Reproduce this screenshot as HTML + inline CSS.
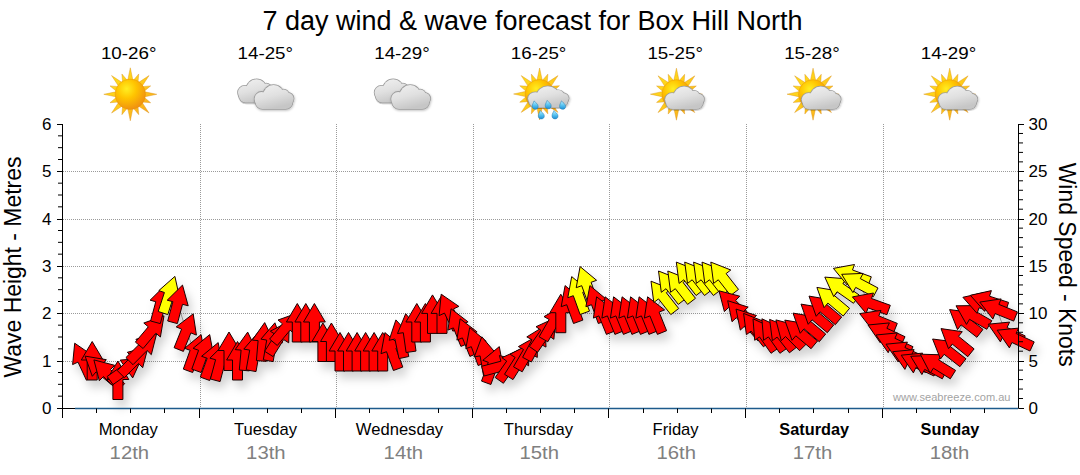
<!DOCTYPE html>
<html><head><meta charset="utf-8"><style>
html,body{margin:0;padding:0;background:#fff;width:1080px;height:475px;overflow:hidden}
svg{display:block}
text{font-family:"Liberation Sans",sans-serif}
.ax{font-size:17px;fill:#000}
.axt{font-size:23.5px;fill:#000}
.day{font-size:16.6px;fill:#000}
.dayb{font-size:16.3px;fill:#000;font-weight:bold}
.date{font-size:17.5px;fill:#808080}
.temp{font-size:16px;fill:#000}
.title{font-size:27px;fill:#000}
.wm{font-size:10.5px;fill:#a3a3a3}
</style></head><body>
<svg width="1080" height="475" viewBox="0 0 1080 475">
<defs><filter id="sh" x="-10%" y="-30%" width="120%" height="160%"><feDropShadow dx="4" dy="7" stdDeviation="5" flood-color="#000" flood-opacity="0.18"/></filter></defs>
<line x1="63" y1="361.5" x2="1018" y2="361.5" stroke="#9a9a9a" stroke-width="1" stroke-dasharray="1,1"/>
<line x1="63" y1="313.5" x2="1018" y2="313.5" stroke="#9a9a9a" stroke-width="1" stroke-dasharray="1,1"/>
<line x1="63" y1="266.5" x2="1018" y2="266.5" stroke="#9a9a9a" stroke-width="1" stroke-dasharray="1,1"/>
<line x1="63" y1="219.5" x2="1018" y2="219.5" stroke="#9a9a9a" stroke-width="1" stroke-dasharray="1,1"/>
<line x1="63" y1="171.5" x2="1018" y2="171.5" stroke="#9a9a9a" stroke-width="1" stroke-dasharray="1,1"/>
<line x1="200.5" y1="124.0" x2="200.5" y2="408.0" stroke="#9a9a9a" stroke-width="1" stroke-dasharray="1,1"/>
<line x1="336.5" y1="124.0" x2="336.5" y2="408.0" stroke="#9a9a9a" stroke-width="1" stroke-dasharray="1,1"/>
<line x1="473.5" y1="124.0" x2="473.5" y2="408.0" stroke="#9a9a9a" stroke-width="1" stroke-dasharray="1,1"/>
<line x1="609.5" y1="124.0" x2="609.5" y2="408.0" stroke="#9a9a9a" stroke-width="1" stroke-dasharray="1,1"/>
<line x1="746.5" y1="124.0" x2="746.5" y2="408.0" stroke="#9a9a9a" stroke-width="1" stroke-dasharray="1,1"/>
<line x1="883.5" y1="124.0" x2="883.5" y2="408.0" stroke="#9a9a9a" stroke-width="1" stroke-dasharray="1,1"/>
<g filter="url(#sh)">
<polyline points="82.5,360.0 92.2,360.0 99.3,368.0 107.0,373.0 117.9,379.5 126.5,369.0 135.0,360.0 143.6,347.0 152.1,330.0 160.6,303.0 169.2,294.0 177.7,303.0 186.3,331.0 194.8,352.0 203.3,352.0 211.9,360.0 220.4,361.0 229.0,350.5 237.5,360.0 246.0,350.5 254.6,351.0 263.1,341.0 271.7,341.0 279.5,337.0 286.3,327.0 297.3,322.0 305.8,322.0 314.4,322.0 322.9,341.5 331.4,341.5 340.0,351.0 348.5,351.0 357.1,351.0 365.6,351.0 374.1,351.0 382.7,351.0 391.2,350.0 399.8,338.0 408.3,332.0 416.8,322.0 425.4,322.0 432.5,313.4 442.0,313.4 449.0,311.0 458.0,326.0 467.0,336.0 476.0,345.0 485.0,355.0 493.0,364.0 502.2,366.0 510.8,364.0 519.3,360.0 527.9,352.0 536.4,342.0 544.9,333.0 553.5,322.0 560.8,312.7 571.4,303.0 578.0,294.0 586.4,284.0 596.2,303.0 603.5,314.0 612.0,314.0 620.5,314.0 629.0,314.0 637.5,314.0 646.0,314.0 654.5,314.0 662.4,295.8 669.9,285.6 679.2,285.6 687.7,276.7 696.1,276.7 705.0,276.7 713.4,276.7 722.2,276.7 732.1,303.9 740.1,314.4 748.4,322.8 755.0,328.0 763.6,334.0 772.5,334.0 781.0,334.0 789.0,333.0 799.0,332.0 807.2,325.0 815.2,316.0 823.2,308.0 831.1,299.3 840.0,287.7 850.8,274.7 858.0,283.0 869.8,303.2 876.9,320.5 884.8,332.8 892.8,342.8 902.8,352.0 909.5,359.5 918.0,363.0 927.0,365.0 936.0,364.0 947.2,350.4 955.4,340.2 964.2,321.0 972.0,315.0 980.5,303.0 988.0,301.0 997.0,309.0 1005.0,332.0 1014.0,338.0" fill="none" stroke="#8a8a8a" stroke-width="1"/>
<polygon points="74.7,343.2 92.4,355.4 87.0,357.9 95.5,376.0 86.4,380.2 78.0,362.1 72.6,364.6" fill="#ff0000" stroke="#1a0000" stroke-width="1"/>
<polygon points="92.2,341.5 103.1,360.0 97.2,360.0 97.2,380.0 87.2,380.0 87.2,360.0 81.3,360.0" fill="#ff0000" stroke="#1a0000" stroke-width="1"/>
<polygon points="85.1,356.1 106.3,359.7 102.5,364.2 117.8,377.0 111.4,384.7 96.1,371.8 92.3,376.3" fill="#ff0000" stroke="#1a0000" stroke-width="1"/>
<polygon points="93.9,359.9 114.7,365.3 110.5,369.5 124.7,383.6 117.6,390.7 103.5,376.5 99.3,380.7" fill="#ff0000" stroke="#1a0000" stroke-width="1"/>
<polygon points="117.9,361.0 128.8,379.5 122.9,379.5 122.9,399.5 112.9,399.5 112.9,379.5 107.0,379.5" fill="#ff0000" stroke="#1a0000" stroke-width="1"/>
<polygon points="141.6,358.4 132.7,377.9 129.3,373.1 113.0,384.6 107.2,376.4 123.6,364.9 120.2,360.1" fill="#ff0000" stroke="#1a0000" stroke-width="1"/>
<polygon points="148.1,346.9 142.7,367.7 138.6,363.5 124.4,377.7 117.3,370.6 131.5,356.5 127.3,352.3" fill="#ff0000" stroke="#1a0000" stroke-width="1"/>
<polygon points="156.6,333.9 151.3,354.7 147.1,350.5 133.0,364.7 125.9,357.6 140.0,343.5 135.9,339.3" fill="#ff0000" stroke="#1a0000" stroke-width="1"/>
<polygon points="164.0,315.8 160.4,337.0 155.9,333.2 143.1,348.5 135.4,342.1 148.3,326.8 143.8,323.0" fill="#ff0000" stroke="#1a0000" stroke-width="1"/>
<polygon points="165.4,285.1 171.2,305.8 165.5,304.3 160.3,323.6 150.6,321.0 155.8,301.7 150.1,300.2" fill="#ff0000" stroke="#1a0000" stroke-width="1"/>
<polygon points="174.9,276.4 179.5,297.4 173.9,295.5 167.8,314.6 158.2,311.5 164.4,292.5 158.8,290.6" fill="#ffff00" stroke="#1a0000" stroke-width="1"/>
<polygon points="182.5,285.1 188.2,305.8 182.5,304.3 177.4,323.6 167.7,321.0 172.9,301.7 167.2,300.2" fill="#ff0000" stroke="#1a0000" stroke-width="1"/>
<polygon points="193.2,313.8 196.4,335.1 190.9,332.9 183.4,351.4 174.1,347.7 181.6,329.1 176.2,326.9" fill="#ff0000" stroke="#1a0000" stroke-width="1"/>
<polygon points="201.1,334.6 205.0,355.7 199.5,353.7 192.7,372.5 183.3,369.1 190.1,350.3 184.6,348.3" fill="#ff0000" stroke="#1a0000" stroke-width="1"/>
<polygon points="209.7,334.6 213.6,355.7 208.0,353.7 201.2,372.5 191.8,369.1 198.6,350.3 193.1,348.3" fill="#ff0000" stroke="#1a0000" stroke-width="1"/>
<polygon points="218.2,342.6 222.1,363.7 216.6,361.7 209.7,380.5 200.3,377.1 207.2,358.3 201.6,356.3" fill="#ff0000" stroke="#1a0000" stroke-width="1"/>
<polygon points="225.2,343.1 230.9,363.8 225.2,362.3 220.1,381.6 210.4,379.0 215.6,359.7 209.9,358.2" fill="#ff0000" stroke="#1a0000" stroke-width="1"/>
<polygon points="229.0,332.0 239.9,350.5 234.0,350.5 234.0,370.5 224.0,370.5 224.0,350.5 218.1,350.5" fill="#ff0000" stroke="#1a0000" stroke-width="1"/>
<polygon points="237.5,341.5 248.4,360.0 242.5,360.0 242.5,380.0 232.5,380.0 232.5,360.0 226.6,360.0" fill="#ff0000" stroke="#1a0000" stroke-width="1"/>
<polygon points="247.7,332.1 256.9,351.4 251.0,350.9 249.3,370.9 239.3,370.0 241.1,350.1 235.2,349.6" fill="#ff0000" stroke="#1a0000" stroke-width="1"/>
<polygon points="257.8,332.8 265.3,352.9 259.5,351.9 256.0,371.6 246.2,369.8 249.7,350.1 243.8,349.1" fill="#ff0000" stroke="#1a0000" stroke-width="1"/>
<polygon points="264.7,322.6 274.0,341.9 268.1,341.4 266.4,361.4 256.4,360.5 258.1,340.6 252.3,340.1" fill="#ff0000" stroke="#1a0000" stroke-width="1"/>
<polygon points="274.9,322.8 282.4,342.9 276.6,341.9 273.1,361.6 263.3,359.8 266.7,340.1 260.9,339.1" fill="#ff0000" stroke="#1a0000" stroke-width="1"/>
<polygon points="289.3,321.3 288.7,342.8 283.7,339.6 273.1,356.6 264.7,351.3 275.3,334.4 270.3,331.2" fill="#ff0000" stroke="#1a0000" stroke-width="1"/>
<polygon points="298.2,312.8 294.6,334.0 290.1,330.2 277.3,345.5 269.6,339.1 282.5,323.8 278.0,320.0" fill="#ff0000" stroke="#1a0000" stroke-width="1"/>
<polygon points="297.3,303.5 308.2,322.0 302.3,322.0 302.3,342.0 292.3,342.0 292.3,322.0 286.4,322.0" fill="#ff0000" stroke="#1a0000" stroke-width="1"/>
<polygon points="305.8,303.5 316.7,322.0 310.8,322.0 310.8,342.0 300.8,342.0 300.8,322.0 294.9,322.0" fill="#ff0000" stroke="#1a0000" stroke-width="1"/>
<polygon points="314.4,303.5 325.3,322.0 319.4,322.0 319.4,342.0 309.4,342.0 309.4,322.0 303.5,322.0" fill="#ff0000" stroke="#1a0000" stroke-width="1"/>
<polygon points="322.9,323.0 333.8,341.5 327.9,341.5 327.9,361.5 317.9,361.5 317.9,341.5 312.0,341.5" fill="#ff0000" stroke="#1a0000" stroke-width="1"/>
<polygon points="331.4,323.0 342.3,341.5 336.4,341.5 336.4,361.5 326.4,361.5 326.4,341.5 320.5,341.5" fill="#ff0000" stroke="#1a0000" stroke-width="1"/>
<polygon points="340.0,332.5 350.9,351.0 345.0,351.0 345.0,371.0 335.0,371.0 335.0,351.0 329.1,351.0" fill="#ff0000" stroke="#1a0000" stroke-width="1"/>
<polygon points="348.5,332.5 359.4,351.0 353.5,351.0 353.5,371.0 343.5,371.0 343.5,351.0 337.6,351.0" fill="#ff0000" stroke="#1a0000" stroke-width="1"/>
<polygon points="357.1,332.5 368.0,351.0 362.1,351.0 362.1,371.0 352.1,371.0 352.1,351.0 346.2,351.0" fill="#ff0000" stroke="#1a0000" stroke-width="1"/>
<polygon points="365.6,332.5 376.5,351.0 370.6,351.0 370.6,371.0 360.6,371.0 360.6,351.0 354.7,351.0" fill="#ff0000" stroke="#1a0000" stroke-width="1"/>
<polygon points="374.1,332.5 385.0,351.0 379.1,351.0 379.1,371.0 369.1,371.0 369.1,351.0 363.2,351.0" fill="#ff0000" stroke="#1a0000" stroke-width="1"/>
<polygon points="382.7,332.5 393.6,351.0 387.7,351.0 387.7,371.0 377.7,371.0 377.7,351.0 371.8,351.0" fill="#ff0000" stroke="#1a0000" stroke-width="1"/>
<polygon points="384.9,332.6 401.5,346.3 395.9,348.3 402.8,367.1 393.4,370.5 386.5,351.7 381.0,353.7" fill="#ff0000" stroke="#1a0000" stroke-width="1"/>
<polygon points="395.9,319.9 410.4,335.7 404.7,337.0 408.8,356.5 399.0,358.6 394.9,339.0 389.1,340.3" fill="#ff0000" stroke="#1a0000" stroke-width="1"/>
<polygon points="405.7,313.7 419.1,330.5 413.3,331.3 416.0,351.1 406.1,352.5 403.3,332.7 397.5,333.5" fill="#ff0000" stroke="#1a0000" stroke-width="1"/>
<polygon points="416.8,303.5 427.7,322.0 421.8,322.0 421.8,342.0 411.8,342.0 411.8,322.0 405.9,322.0" fill="#ff0000" stroke="#1a0000" stroke-width="1"/>
<polygon points="425.4,303.5 436.3,322.0 430.4,322.0 430.4,342.0 420.4,342.0 420.4,322.0 414.5,322.0" fill="#ff0000" stroke="#1a0000" stroke-width="1"/>
<polygon points="432.5,294.9 443.4,313.4 437.5,313.4 437.5,333.4 427.5,333.4 427.5,313.4 421.6,313.4" fill="#ff0000" stroke="#1a0000" stroke-width="1"/>
<polygon points="442.0,294.9 452.9,313.4 447.0,313.4 447.0,333.4 437.0,333.4 437.0,313.4 431.1,313.4" fill="#ff0000" stroke="#1a0000" stroke-width="1"/>
<polygon points="441.2,294.2 458.9,306.4 453.5,308.9 462.0,327.0 452.9,331.2 444.5,313.1 439.1,315.6" fill="#ff0000" stroke="#1a0000" stroke-width="1"/>
<polygon points="451.1,308.8 468.1,321.9 462.6,324.1 470.1,342.7 460.9,346.4 453.4,327.9 447.9,330.1" fill="#ff0000" stroke="#1a0000" stroke-width="1"/>
<polygon points="460.1,318.8 477.1,331.9 471.6,334.1 479.1,352.7 469.9,356.4 462.4,337.9 456.9,340.1" fill="#ff0000" stroke="#1a0000" stroke-width="1"/>
<polygon points="469.7,327.6 486.2,341.3 480.7,343.3 487.5,362.1 478.1,365.5 471.3,346.7 465.8,348.7" fill="#ff0000" stroke="#1a0000" stroke-width="1"/>
<polygon points="481.8,336.8 495.7,353.1 489.9,354.1 493.4,373.8 483.5,375.6 480.1,355.9 474.3,356.9" fill="#ff0000" stroke="#1a0000" stroke-width="1"/>
<polygon points="499.3,346.6 503.2,367.7 497.7,365.7 490.9,384.5 481.5,381.1 488.3,362.3 482.8,360.3" fill="#ff0000" stroke="#1a0000" stroke-width="1"/>
<polygon points="520.1,361.2 505.1,376.5 503.5,370.8 484.2,376.0 481.6,366.3 500.9,361.2 499.4,355.5" fill="#ff0000" stroke="#1a0000" stroke-width="1"/>
<polygon points="521.4,348.8 519.7,370.3 514.9,366.9 503.4,383.3 495.2,377.5 506.7,361.1 501.9,357.7" fill="#ff0000" stroke="#1a0000" stroke-width="1"/>
<polygon points="529.1,344.3 528.6,365.8 523.6,362.6 513.0,379.6 504.5,374.3 515.1,357.4 510.1,354.2" fill="#ff0000" stroke="#1a0000" stroke-width="1"/>
<polygon points="537.1,336.0 537.3,357.4 532.2,354.5 522.2,371.8 513.5,366.8 523.5,349.5 518.4,346.6" fill="#ff0000" stroke="#1a0000" stroke-width="1"/>
<polygon points="545.1,325.7 546.0,347.1 540.8,344.3 531.4,362.0 522.6,357.3 532.0,339.7 526.8,336.9" fill="#ff0000" stroke="#1a0000" stroke-width="1"/>
<polygon points="555.6,317.8 553.9,339.3 549.0,335.9 537.6,352.3 529.4,346.5 540.8,330.1 536.0,326.7" fill="#ff0000" stroke="#1a0000" stroke-width="1"/>
<polygon points="562.7,306.0 562.9,327.4 557.8,324.5 547.8,341.8 539.1,336.8 549.1,319.5 544.0,316.6" fill="#ff0000" stroke="#1a0000" stroke-width="1"/>
<polygon points="560.8,294.2 571.7,312.7 565.8,312.7 565.8,332.7 555.8,332.7 555.8,312.7 549.9,312.7" fill="#ff0000" stroke="#1a0000" stroke-width="1"/>
<polygon points="565.1,285.6 581.6,299.3 576.1,301.3 582.9,320.1 573.5,323.5 566.7,304.7 561.2,306.7" fill="#ff0000" stroke="#1a0000" stroke-width="1"/>
<polygon points="571.7,276.6 588.2,290.3 582.7,292.3 589.5,311.1 580.1,314.5 573.3,295.7 567.8,297.7" fill="#ffff00" stroke="#1a0000" stroke-width="1"/>
<polygon points="580.1,266.6 596.6,280.3 591.1,282.3 597.9,301.1 588.5,304.5 581.7,285.7 576.2,287.7" fill="#ffff00" stroke="#1a0000" stroke-width="1"/>
<polygon points="589.9,285.6 606.4,299.3 600.9,301.3 607.7,320.1 598.3,323.5 591.5,304.7 585.9,306.7" fill="#ff0000" stroke="#1a0000" stroke-width="1"/>
<polygon points="596.6,296.8 613.6,309.9 608.1,312.1 615.6,330.7 606.4,334.4 598.9,315.9 593.4,318.1" fill="#ff0000" stroke="#1a0000" stroke-width="1"/>
<polygon points="605.1,296.8 622.1,309.9 616.6,312.1 624.1,330.7 614.9,334.4 607.4,315.9 601.9,318.1" fill="#ff0000" stroke="#1a0000" stroke-width="1"/>
<polygon points="613.6,296.8 630.6,309.9 625.1,312.1 632.6,330.7 623.4,334.4 615.9,315.9 610.4,318.1" fill="#ff0000" stroke="#1a0000" stroke-width="1"/>
<polygon points="622.1,296.8 639.1,309.9 633.6,312.1 641.1,330.7 631.9,334.4 624.4,315.9 618.9,318.1" fill="#ff0000" stroke="#1a0000" stroke-width="1"/>
<polygon points="630.6,296.8 647.6,309.9 642.1,312.1 649.6,330.7 640.4,334.4 632.9,315.9 627.4,318.1" fill="#ff0000" stroke="#1a0000" stroke-width="1"/>
<polygon points="639.1,296.8 656.1,309.9 650.6,312.1 658.1,330.7 648.9,334.4 641.4,315.9 635.9,318.1" fill="#ff0000" stroke="#1a0000" stroke-width="1"/>
<polygon points="647.6,296.8 664.6,309.9 659.1,312.1 666.6,330.7 657.4,334.4 649.9,315.9 644.4,318.1" fill="#ff0000" stroke="#1a0000" stroke-width="1"/>
<polygon points="651.0,281.2 671.0,289.1 666.3,292.7 678.7,308.5 670.8,314.6 658.5,298.9 653.8,302.5" fill="#ffff00" stroke="#1a0000" stroke-width="1"/>
<polygon points="658.5,271.0 678.5,278.9 673.8,282.5 686.2,298.3 678.3,304.4 666.0,288.7 661.3,292.3" fill="#ffff00" stroke="#1a0000" stroke-width="1"/>
<polygon points="667.8,271.0 687.8,278.9 683.1,282.5 695.5,298.3 687.6,304.4 675.3,288.7 670.6,292.3" fill="#ffff00" stroke="#1a0000" stroke-width="1"/>
<polygon points="676.3,262.1 696.3,270.0 691.6,273.6 704.0,289.4 696.1,295.5 683.8,279.8 679.1,283.4" fill="#ffff00" stroke="#1a0000" stroke-width="1"/>
<polygon points="684.7,262.1 704.7,270.0 700.0,273.6 712.4,289.4 704.5,295.5 692.2,279.8 687.5,283.4" fill="#ffff00" stroke="#1a0000" stroke-width="1"/>
<polygon points="693.6,262.1 713.6,270.0 708.9,273.6 721.3,289.4 713.4,295.5 701.1,279.8 696.4,283.4" fill="#ffff00" stroke="#1a0000" stroke-width="1"/>
<polygon points="702.0,262.1 722.0,270.0 717.3,273.6 729.7,289.4 721.8,295.5 709.5,279.8 704.8,283.4" fill="#ffff00" stroke="#1a0000" stroke-width="1"/>
<polygon points="710.8,262.1 730.8,270.0 726.1,273.6 738.5,289.4 730.6,295.5 718.3,279.8 713.6,283.4" fill="#ffff00" stroke="#1a0000" stroke-width="1"/>
<polygon points="719.0,290.8 739.8,296.2 735.6,300.4 749.8,314.5 742.7,321.6 728.6,307.4 724.4,311.6" fill="#ff0000" stroke="#1a0000" stroke-width="1"/>
<polygon points="727.7,300.7 748.2,307.1 743.8,311.1 757.2,325.9 749.8,332.6 736.4,317.7 732.0,321.7" fill="#ff0000" stroke="#1a0000" stroke-width="1"/>
<polygon points="736.0,309.1 756.5,315.5 752.1,319.5 765.5,334.3 758.1,341.0 744.7,326.1 740.3,330.1" fill="#ff0000" stroke="#1a0000" stroke-width="1"/>
<polygon points="743.6,313.4 763.6,321.3 758.9,324.9 771.3,340.7 763.4,346.8 751.1,331.1 746.4,334.7" fill="#ff0000" stroke="#1a0000" stroke-width="1"/>
<polygon points="753.0,318.8 772.5,327.7 767.7,331.1 779.2,347.5 771.0,353.3 759.5,336.9 754.7,340.3" fill="#ff0000" stroke="#1a0000" stroke-width="1"/>
<polygon points="761.9,318.8 781.4,327.7 776.6,331.1 788.1,347.5 779.9,353.3 768.4,336.9 763.6,340.3" fill="#ff0000" stroke="#1a0000" stroke-width="1"/>
<polygon points="769.6,319.4 789.6,327.3 784.9,330.9 797.3,346.7 789.4,352.8 777.1,337.1 772.4,340.7" fill="#ff0000" stroke="#1a0000" stroke-width="1"/>
<polygon points="775.9,319.9 796.7,325.3 792.5,329.5 806.7,343.6 799.6,350.7 785.5,336.5 781.3,340.7" fill="#ff0000" stroke="#1a0000" stroke-width="1"/>
<polygon points="784.8,320.1 806.0,323.7 802.2,328.2 817.5,341.0 811.1,348.7 795.8,335.8 792.0,340.3" fill="#ff0000" stroke="#1a0000" stroke-width="1"/>
<polygon points="793.0,313.1 814.2,316.7 810.4,321.2 825.7,334.0 819.3,341.7 804.0,328.8 800.2,333.3" fill="#ff0000" stroke="#1a0000" stroke-width="1"/>
<polygon points="801.0,304.1 822.2,307.7 818.4,312.2 833.7,325.0 827.3,332.7 812.0,319.8 808.2,324.3" fill="#ff0000" stroke="#1a0000" stroke-width="1"/>
<polygon points="809.0,296.1 830.2,299.7 826.4,304.2 841.7,317.0 835.3,324.7 820.0,311.8 816.2,316.3" fill="#ff0000" stroke="#1a0000" stroke-width="1"/>
<polygon points="816.9,287.4 838.1,291.0 834.3,295.5 849.6,308.3 843.2,316.0 827.9,303.1 824.1,307.6" fill="#ffff00" stroke="#1a0000" stroke-width="1"/>
<polygon points="824.8,277.1 846.3,278.8 842.9,283.6 859.3,295.1 853.5,303.3 837.1,291.8 833.7,296.6" fill="#ffff00" stroke="#1a0000" stroke-width="1"/>
<polygon points="833.4,268.4 854.5,264.5 852.5,270.0 871.3,276.8 867.9,286.2 849.1,279.4 847.1,284.9" fill="#ffff00" stroke="#1a0000" stroke-width="1"/>
<polygon points="841.7,274.3 863.1,273.4 860.3,278.6 878.0,288.0 873.3,296.8 855.7,287.4 852.9,292.6" fill="#ffff00" stroke="#1a0000" stroke-width="1"/>
<polygon points="852.4,296.9 873.5,293.0 871.5,298.5 890.3,305.3 886.9,314.7 868.1,307.9 866.1,313.4" fill="#ff0000" stroke="#1a0000" stroke-width="1"/>
<polygon points="859.7,313.6 881.0,310.4 878.8,315.9 897.3,323.4 893.6,332.6 875.0,325.1 872.8,330.6" fill="#ff0000" stroke="#1a0000" stroke-width="1"/>
<polygon points="868.0,325.0 889.4,322.9 886.9,328.3 905.0,336.7 900.8,345.8 882.7,337.3 880.2,342.7" fill="#ff0000" stroke="#1a0000" stroke-width="1"/>
<polygon points="876.0,335.0 897.4,332.9 894.9,338.3 913.0,346.7 908.8,355.8 890.7,347.3 888.2,352.7" fill="#ff0000" stroke="#1a0000" stroke-width="1"/>
<polygon points="886.0,344.2 907.4,342.1 904.9,347.5 923.0,355.9 918.8,365.0 900.7,356.5 898.2,361.9" fill="#ff0000" stroke="#1a0000" stroke-width="1"/>
<polygon points="892.7,351.7 914.1,349.6 911.6,355.0 929.7,363.4 925.5,372.5 907.4,364.0 904.9,369.4" fill="#ff0000" stroke="#1a0000" stroke-width="1"/>
<polygon points="901.2,355.2 922.6,353.1 920.1,358.5 938.2,366.9 934.0,376.0 915.9,367.5 913.4,372.9" fill="#ff0000" stroke="#1a0000" stroke-width="1"/>
<polygon points="910.7,356.3 932.1,355.4 929.3,360.6 947.0,370.0 942.3,378.8 924.7,369.4 921.9,374.6" fill="#ff0000" stroke="#1a0000" stroke-width="1"/>
<polygon points="920.3,354.2 941.8,354.8 938.6,359.8 955.6,370.4 950.3,378.8 933.4,368.2 930.2,373.2" fill="#ff0000" stroke="#1a0000" stroke-width="1"/>
<polygon points="932.6,339.0 953.9,341.8 950.3,346.5 966.0,358.8 959.9,366.7 944.1,354.3 940.5,359.0" fill="#ff0000" stroke="#1a0000" stroke-width="1"/>
<polygon points="941.0,328.6 962.3,331.7 958.5,336.3 974.1,348.9 967.8,356.7 952.3,344.1 948.5,348.7" fill="#ff0000" stroke="#1a0000" stroke-width="1"/>
<polygon points="949.6,309.6 970.9,312.4 967.3,317.1 983.0,329.4 976.9,337.3 961.1,324.9 957.5,329.6" fill="#ff0000" stroke="#1a0000" stroke-width="1"/>
<polygon points="956.0,305.8 977.5,305.6 974.5,310.7 991.8,320.7 986.8,329.3 969.5,319.3 966.5,324.4" fill="#ff0000" stroke="#1a0000" stroke-width="1"/>
<polygon points="962.9,297.3 983.9,292.6 982.0,298.2 1001.1,304.4 998.0,313.9 979.0,307.8 977.1,313.4" fill="#ff0000" stroke="#1a0000" stroke-width="1"/>
<polygon points="970.4,295.3 991.4,290.6 989.5,296.2 1008.6,302.4 1005.5,311.9 986.5,305.8 984.6,311.4" fill="#ff0000" stroke="#1a0000" stroke-width="1"/>
<polygon points="979.8,302.1 1001.1,298.9 998.9,304.4 1017.4,311.9 1013.7,321.1 995.1,313.6 992.9,319.1" fill="#ff0000" stroke="#1a0000" stroke-width="1"/>
<polygon points="988.2,324.2 1009.6,322.1 1007.1,327.5 1025.2,335.9 1021.0,345.0 1002.9,336.5 1000.4,341.9" fill="#ff0000" stroke="#1a0000" stroke-width="1"/>
<polygon points="997.2,330.2 1018.6,328.1 1016.1,333.5 1034.2,341.9 1030.0,351.0 1011.9,342.5 1009.4,347.9" fill="#ff0000" stroke="#1a0000" stroke-width="1"/>
</g>
<line x1="62.5" y1="124.0" x2="62.5" y2="418" stroke="#000" stroke-width="1"/>
<line x1="57" y1="408.5" x2="62.5" y2="408.5" stroke="#000" stroke-width="1"/>
<line x1="58" y1="396.17" x2="62.5" y2="396.17" stroke="#000" stroke-width="1"/>
<line x1="58" y1="384.33" x2="62.5" y2="384.33" stroke="#000" stroke-width="1"/>
<line x1="58" y1="372.50" x2="62.5" y2="372.50" stroke="#000" stroke-width="1"/>
<line x1="57" y1="361.5" x2="62.5" y2="361.5" stroke="#000" stroke-width="1"/>
<line x1="58" y1="348.83" x2="62.5" y2="348.83" stroke="#000" stroke-width="1"/>
<line x1="58" y1="337.00" x2="62.5" y2="337.00" stroke="#000" stroke-width="1"/>
<line x1="58" y1="325.17" x2="62.5" y2="325.17" stroke="#000" stroke-width="1"/>
<line x1="57" y1="313.5" x2="62.5" y2="313.5" stroke="#000" stroke-width="1"/>
<line x1="58" y1="301.50" x2="62.5" y2="301.50" stroke="#000" stroke-width="1"/>
<line x1="58" y1="289.67" x2="62.5" y2="289.67" stroke="#000" stroke-width="1"/>
<line x1="58" y1="277.83" x2="62.5" y2="277.83" stroke="#000" stroke-width="1"/>
<line x1="57" y1="266.5" x2="62.5" y2="266.5" stroke="#000" stroke-width="1"/>
<line x1="58" y1="254.17" x2="62.5" y2="254.17" stroke="#000" stroke-width="1"/>
<line x1="58" y1="242.33" x2="62.5" y2="242.33" stroke="#000" stroke-width="1"/>
<line x1="58" y1="230.50" x2="62.5" y2="230.50" stroke="#000" stroke-width="1"/>
<line x1="57" y1="219.5" x2="62.5" y2="219.5" stroke="#000" stroke-width="1"/>
<line x1="58" y1="206.83" x2="62.5" y2="206.83" stroke="#000" stroke-width="1"/>
<line x1="58" y1="195.00" x2="62.5" y2="195.00" stroke="#000" stroke-width="1"/>
<line x1="58" y1="183.17" x2="62.5" y2="183.17" stroke="#000" stroke-width="1"/>
<line x1="57" y1="171.5" x2="62.5" y2="171.5" stroke="#000" stroke-width="1"/>
<line x1="58" y1="159.50" x2="62.5" y2="159.50" stroke="#000" stroke-width="1"/>
<line x1="58" y1="147.67" x2="62.5" y2="147.67" stroke="#000" stroke-width="1"/>
<line x1="58" y1="135.83" x2="62.5" y2="135.83" stroke="#000" stroke-width="1"/>
<line x1="57" y1="124.5" x2="62.5" y2="124.5" stroke="#000" stroke-width="1"/>
<text x="51.5" y="414.0" text-anchor="end" class="ax">0</text>
<text x="51.5" y="366.6666666666667" text-anchor="end" class="ax">1</text>
<text x="51.5" y="319.3333333333333" text-anchor="end" class="ax">2</text>
<text x="51.5" y="272.0" text-anchor="end" class="ax">3</text>
<text x="51.5" y="224.66666666666666" text-anchor="end" class="ax">4</text>
<text x="51.5" y="177.33333333333334" text-anchor="end" class="ax">5</text>
<text x="51.5" y="130.0" text-anchor="end" class="ax">6</text>
<line x1="1018.5" y1="124.0" x2="1018.5" y2="408.5" stroke="#000" stroke-width="1"/>
<line x1="1018.5" y1="408.5" x2="1024" y2="408.5" stroke="#000" stroke-width="1"/>
<line x1="1018.5" y1="398.53" x2="1023" y2="398.53" stroke="#000" stroke-width="1"/>
<line x1="1018.5" y1="389.07" x2="1023" y2="389.07" stroke="#000" stroke-width="1"/>
<line x1="1018.5" y1="379.60" x2="1023" y2="379.60" stroke="#000" stroke-width="1"/>
<line x1="1018.5" y1="370.13" x2="1023" y2="370.13" stroke="#000" stroke-width="1"/>
<line x1="1018.5" y1="361.5" x2="1024" y2="361.5" stroke="#000" stroke-width="1"/>
<line x1="1018.5" y1="351.20" x2="1023" y2="351.20" stroke="#000" stroke-width="1"/>
<line x1="1018.5" y1="341.73" x2="1023" y2="341.73" stroke="#000" stroke-width="1"/>
<line x1="1018.5" y1="332.27" x2="1023" y2="332.27" stroke="#000" stroke-width="1"/>
<line x1="1018.5" y1="322.80" x2="1023" y2="322.80" stroke="#000" stroke-width="1"/>
<line x1="1018.5" y1="313.5" x2="1024" y2="313.5" stroke="#000" stroke-width="1"/>
<line x1="1018.5" y1="303.87" x2="1023" y2="303.87" stroke="#000" stroke-width="1"/>
<line x1="1018.5" y1="294.40" x2="1023" y2="294.40" stroke="#000" stroke-width="1"/>
<line x1="1018.5" y1="284.93" x2="1023" y2="284.93" stroke="#000" stroke-width="1"/>
<line x1="1018.5" y1="275.47" x2="1023" y2="275.47" stroke="#000" stroke-width="1"/>
<line x1="1018.5" y1="266.5" x2="1024" y2="266.5" stroke="#000" stroke-width="1"/>
<line x1="1018.5" y1="256.53" x2="1023" y2="256.53" stroke="#000" stroke-width="1"/>
<line x1="1018.5" y1="247.07" x2="1023" y2="247.07" stroke="#000" stroke-width="1"/>
<line x1="1018.5" y1="237.60" x2="1023" y2="237.60" stroke="#000" stroke-width="1"/>
<line x1="1018.5" y1="228.13" x2="1023" y2="228.13" stroke="#000" stroke-width="1"/>
<line x1="1018.5" y1="219.5" x2="1024" y2="219.5" stroke="#000" stroke-width="1"/>
<line x1="1018.5" y1="209.20" x2="1023" y2="209.20" stroke="#000" stroke-width="1"/>
<line x1="1018.5" y1="199.73" x2="1023" y2="199.73" stroke="#000" stroke-width="1"/>
<line x1="1018.5" y1="190.27" x2="1023" y2="190.27" stroke="#000" stroke-width="1"/>
<line x1="1018.5" y1="180.80" x2="1023" y2="180.80" stroke="#000" stroke-width="1"/>
<line x1="1018.5" y1="171.5" x2="1024" y2="171.5" stroke="#000" stroke-width="1"/>
<line x1="1018.5" y1="161.87" x2="1023" y2="161.87" stroke="#000" stroke-width="1"/>
<line x1="1018.5" y1="152.40" x2="1023" y2="152.40" stroke="#000" stroke-width="1"/>
<line x1="1018.5" y1="142.93" x2="1023" y2="142.93" stroke="#000" stroke-width="1"/>
<line x1="1018.5" y1="133.47" x2="1023" y2="133.47" stroke="#000" stroke-width="1"/>
<line x1="1018.5" y1="124.5" x2="1024" y2="124.5" stroke="#000" stroke-width="1"/>
<text x="1028.5" y="414.0" text-anchor="start" class="ax">0</text>
<text x="1028.5" y="366.6666666666667" text-anchor="start" class="ax">5</text>
<text x="1028.5" y="319.3333333333333" text-anchor="start" class="ax">10</text>
<text x="1028.5" y="272.0" text-anchor="start" class="ax">15</text>
<text x="1028.5" y="224.66666666666666" text-anchor="start" class="ax">20</text>
<text x="1028.5" y="177.33333333333334" text-anchor="start" class="ax">25</text>
<text x="1028.5" y="130.0" text-anchor="start" class="ax">30</text>
<line x1="57" y1="408.5" x2="75" y2="408.5" stroke="#000" stroke-width="1"/>
<line x1="75" y1="408.5" x2="1018" y2="408.5" stroke="#1d5b8c" stroke-width="1.4"/>
<line x1="96.5" y1="408.5" x2="96.5" y2="413" stroke="#000" stroke-width="1"/>
<line x1="130.5" y1="408.5" x2="130.5" y2="413" stroke="#000" stroke-width="1"/>
<line x1="164.5" y1="408.5" x2="164.5" y2="413" stroke="#000" stroke-width="1"/>
<line x1="199.5" y1="408.5" x2="199.5" y2="418" stroke="#000" stroke-width="1"/>
<line x1="233.5" y1="408.5" x2="233.5" y2="413" stroke="#000" stroke-width="1"/>
<line x1="267.5" y1="408.5" x2="267.5" y2="413" stroke="#000" stroke-width="1"/>
<line x1="301.5" y1="408.5" x2="301.5" y2="413" stroke="#000" stroke-width="1"/>
<line x1="335.5" y1="408.5" x2="335.5" y2="418" stroke="#000" stroke-width="1"/>
<line x1="369.5" y1="408.5" x2="369.5" y2="413" stroke="#000" stroke-width="1"/>
<line x1="403.5" y1="408.5" x2="403.5" y2="413" stroke="#000" stroke-width="1"/>
<line x1="438.5" y1="408.5" x2="438.5" y2="413" stroke="#000" stroke-width="1"/>
<line x1="472.5" y1="408.5" x2="472.5" y2="418" stroke="#000" stroke-width="1"/>
<line x1="506.5" y1="408.5" x2="506.5" y2="413" stroke="#000" stroke-width="1"/>
<line x1="540.5" y1="408.5" x2="540.5" y2="413" stroke="#000" stroke-width="1"/>
<line x1="574.5" y1="408.5" x2="574.5" y2="413" stroke="#000" stroke-width="1"/>
<line x1="608.5" y1="408.5" x2="608.5" y2="418" stroke="#000" stroke-width="1"/>
<line x1="643.5" y1="408.5" x2="643.5" y2="413" stroke="#000" stroke-width="1"/>
<line x1="677.5" y1="408.5" x2="677.5" y2="413" stroke="#000" stroke-width="1"/>
<line x1="711.5" y1="408.5" x2="711.5" y2="413" stroke="#000" stroke-width="1"/>
<line x1="745.5" y1="408.5" x2="745.5" y2="418" stroke="#000" stroke-width="1"/>
<line x1="779.5" y1="408.5" x2="779.5" y2="413" stroke="#000" stroke-width="1"/>
<line x1="813.5" y1="408.5" x2="813.5" y2="413" stroke="#000" stroke-width="1"/>
<line x1="848.5" y1="408.5" x2="848.5" y2="413" stroke="#000" stroke-width="1"/>
<line x1="882.5" y1="408.5" x2="882.5" y2="418" stroke="#000" stroke-width="1"/>
<line x1="916.5" y1="408.5" x2="916.5" y2="413" stroke="#000" stroke-width="1"/>
<line x1="950.5" y1="408.5" x2="950.5" y2="413" stroke="#000" stroke-width="1"/>
<line x1="984.5" y1="408.5" x2="984.5" y2="413" stroke="#000" stroke-width="1"/>
<text x="128.2" y="435" text-anchor="middle" class="day">Monday</text>
<text x="129.35" y="458.6" text-anchor="middle" class="date" textLength="39.5" lengthAdjust="spacingAndGlyphs">12th</text>
<text x="128.7" y="59.2" text-anchor="middle" class="temp" textLength="55.5" lengthAdjust="spacingAndGlyphs">10-26°</text>
<text x="265.5" y="435" text-anchor="middle" class="day">Tuesday</text>
<text x="265.85" y="458.6" text-anchor="middle" class="date" textLength="39.5" lengthAdjust="spacingAndGlyphs">13th</text>
<text x="265.3" y="59.2" text-anchor="middle" class="temp" textLength="55.5" lengthAdjust="spacingAndGlyphs">14-25°</text>
<text x="399.5" y="435" text-anchor="middle" class="day">Wednesday</text>
<text x="403.35" y="458.6" text-anchor="middle" class="date" textLength="39.5" lengthAdjust="spacingAndGlyphs">14th</text>
<text x="402.0" y="59.2" text-anchor="middle" class="temp" textLength="55.5" lengthAdjust="spacingAndGlyphs">14-29°</text>
<text x="538.4" y="435" text-anchor="middle" class="day">Thursday</text>
<text x="539.3" y="458.6" text-anchor="middle" class="date" textLength="39.5" lengthAdjust="spacingAndGlyphs">15th</text>
<text x="538.6" y="59.2" text-anchor="middle" class="temp" textLength="55.5" lengthAdjust="spacingAndGlyphs">16-25°</text>
<text x="675.6" y="435" text-anchor="middle" class="day">Friday</text>
<text x="676.25" y="458.6" text-anchor="middle" class="date" textLength="39.5" lengthAdjust="spacingAndGlyphs">16th</text>
<text x="675.2" y="59.2" text-anchor="middle" class="temp" textLength="55.5" lengthAdjust="spacingAndGlyphs">15-25°</text>
<text x="814.2" y="435" text-anchor="middle" class="dayb">Saturday</text>
<text x="812.45" y="458.6" text-anchor="middle" class="date" textLength="39.5" lengthAdjust="spacingAndGlyphs">17th</text>
<text x="811.9" y="59.2" text-anchor="middle" class="temp" textLength="55.5" lengthAdjust="spacingAndGlyphs">15-28°</text>
<text x="950.0" y="435" text-anchor="middle" class="dayb">Sunday</text>
<text x="949.55" y="458.6" text-anchor="middle" class="date" textLength="39.5" lengthAdjust="spacingAndGlyphs">18th</text>
<text x="948.5" y="59.2" text-anchor="middle" class="temp" textLength="55.5" lengthAdjust="spacingAndGlyphs">14-29°</text>
<text x="893" y="401" class="wm" textLength="117.5" lengthAdjust="spacingAndGlyphs">www.seabreeze.com.au</text>
<text x="532.5" y="29.5" text-anchor="middle" class="title">7 day wind &amp; wave forecast for Box Hill North</text>
<text transform="translate(20.8,267) rotate(-90)" text-anchor="middle" class="axt" textLength="221" lengthAdjust="spacingAndGlyphs">Wave Height - Metres</text>
<text transform="translate(1058.9,264.7) rotate(90)" text-anchor="middle" class="axt" textLength="204" lengthAdjust="spacingAndGlyphs">Wind Speed - Knots</text>
<defs>
<radialGradient id="sunCore" cx="0.38" cy="0.32" r="0.7">
 <stop offset="0" stop-color="#ffee22"/><stop offset="0.45" stop-color="#ffc400"/><stop offset="1" stop-color="#f09010"/></radialGradient>
<linearGradient id="sunRay" x1="0" y1="0" x2="1" y2="1">
 <stop offset="0" stop-color="#ffe41a"/><stop offset="0.55" stop-color="#ffc81a"/><stop offset="1" stop-color="#f59a1e"/></linearGradient>
<linearGradient id="cloudG" gradientUnits="userSpaceOnUse" x1="10" y1="0" x2="16" y2="24">
 <stop offset="0" stop-color="#efefef"/><stop offset="0.5" stop-color="#e0e0e0"/><stop offset="1" stop-color="#c6c6c6"/></linearGradient>
<linearGradient id="dropG" x1="0" y1="0" x2="0" y2="1">
 <stop offset="0" stop-color="#bff0ff"/><stop offset="0.5" stop-color="#5cc6f2"/><stop offset="1" stop-color="#1d8fd6"/></linearGradient>
<filter id="ish" x="-20%" y="-20%" width="140%" height="140%"><feDropShadow dx="0.5" dy="1" stdDeviation="0.8" flood-color="#000" flood-opacity="0.25"/></filter>
</defs>
<polygon points="130.31,67.80 133.01,80.77 138.73,73.97 137.98,82.83 149.05,75.56 141.79,86.63 150.64,85.88 143.85,91.61 156.81,94.30 143.85,96.99 150.64,102.72 141.79,101.97 149.05,113.04 137.98,105.77 138.73,114.63 133.01,107.83 130.31,120.80 127.62,107.83 121.90,114.63 122.65,105.77 111.58,113.04 118.84,101.97 109.99,102.72 116.78,96.99 103.81,94.30 116.78,91.61 109.99,85.88 118.84,86.63 111.58,75.56 122.65,82.83 121.90,73.97 127.62,80.77" fill="url(#sunRay)" stroke="#d9901a" stroke-width="0.6" stroke-opacity="0.7"/><circle cx="130.31428571428572" cy="94.3" r="15.2" fill="url(#sunCore)" stroke="#e08a10" stroke-width="0.6" stroke-opacity="0.6"/>
<g transform="translate(237.94285714285718,79.2) scale(0.9769820971867008,0.9707112970711297)" filter="url(#ish)"><circle cx="7.0" cy="13.8" r="7.0" fill="#9c9c9c" stroke="#9c9c9c" stroke-width="1.6"/><circle cx="19.0" cy="10.5" r="10.5" fill="#9c9c9c" stroke="#9c9c9c" stroke-width="1.6"/><circle cx="29.0" cy="9.8" r="5.4" fill="#9c9c9c" stroke="#9c9c9c" stroke-width="1.6"/><circle cx="33.2" cy="13.5" r="5.9" fill="#9c9c9c" stroke="#9c9c9c" stroke-width="1.6"/><rect x="1.0" y="9.0" width="37.0" height="14.9" rx="7.0" fill="#9c9c9c" stroke="#9c9c9c" stroke-width="1.6"/><circle cx="7.0" cy="13.8" r="7.0" fill="url(#cloudG)"/><circle cx="19.0" cy="10.5" r="10.5" fill="url(#cloudG)"/><circle cx="29.0" cy="9.8" r="5.4" fill="url(#cloudG)"/><circle cx="33.2" cy="13.5" r="5.9" fill="url(#cloudG)"/><rect x="1.0" y="9.0" width="37.0" height="14.9" rx="7.0" fill="url(#cloudG)"/></g>
<g transform="translate(254.54285714285717,85.1) scale(1.0,1.0)" filter="url(#ish)"><circle cx="7.0" cy="13.8" r="7.0" fill="#9c9c9c" stroke="#9c9c9c" stroke-width="1.6"/><circle cx="19.0" cy="10.5" r="10.5" fill="#9c9c9c" stroke="#9c9c9c" stroke-width="1.6"/><circle cx="29.0" cy="9.8" r="5.4" fill="#9c9c9c" stroke="#9c9c9c" stroke-width="1.6"/><circle cx="33.2" cy="13.5" r="5.9" fill="#9c9c9c" stroke="#9c9c9c" stroke-width="1.6"/><rect x="1.0" y="9.0" width="37.0" height="14.9" rx="7.0" fill="#9c9c9c" stroke="#9c9c9c" stroke-width="1.6"/><circle cx="7.0" cy="13.8" r="7.0" fill="url(#cloudG)"/><circle cx="19.0" cy="10.5" r="10.5" fill="url(#cloudG)"/><circle cx="29.0" cy="9.8" r="5.4" fill="url(#cloudG)"/><circle cx="33.2" cy="13.5" r="5.9" fill="url(#cloudG)"/><rect x="1.0" y="9.0" width="37.0" height="14.9" rx="7.0" fill="url(#cloudG)"/></g>
<g transform="translate(374.57142857142856,79.2) scale(0.9769820971867008,0.9707112970711297)" filter="url(#ish)"><circle cx="7.0" cy="13.8" r="7.0" fill="#9c9c9c" stroke="#9c9c9c" stroke-width="1.6"/><circle cx="19.0" cy="10.5" r="10.5" fill="#9c9c9c" stroke="#9c9c9c" stroke-width="1.6"/><circle cx="29.0" cy="9.8" r="5.4" fill="#9c9c9c" stroke="#9c9c9c" stroke-width="1.6"/><circle cx="33.2" cy="13.5" r="5.9" fill="#9c9c9c" stroke="#9c9c9c" stroke-width="1.6"/><rect x="1.0" y="9.0" width="37.0" height="14.9" rx="7.0" fill="#9c9c9c" stroke="#9c9c9c" stroke-width="1.6"/><circle cx="7.0" cy="13.8" r="7.0" fill="url(#cloudG)"/><circle cx="19.0" cy="10.5" r="10.5" fill="url(#cloudG)"/><circle cx="29.0" cy="9.8" r="5.4" fill="url(#cloudG)"/><circle cx="33.2" cy="13.5" r="5.9" fill="url(#cloudG)"/><rect x="1.0" y="9.0" width="37.0" height="14.9" rx="7.0" fill="url(#cloudG)"/></g>
<g transform="translate(391.1714285714286,85.1) scale(1.0,1.0)" filter="url(#ish)"><circle cx="7.0" cy="13.8" r="7.0" fill="#9c9c9c" stroke="#9c9c9c" stroke-width="1.6"/><circle cx="19.0" cy="10.5" r="10.5" fill="#9c9c9c" stroke="#9c9c9c" stroke-width="1.6"/><circle cx="29.0" cy="9.8" r="5.4" fill="#9c9c9c" stroke="#9c9c9c" stroke-width="1.6"/><circle cx="33.2" cy="13.5" r="5.9" fill="#9c9c9c" stroke="#9c9c9c" stroke-width="1.6"/><rect x="1.0" y="9.0" width="37.0" height="14.9" rx="7.0" fill="#9c9c9c" stroke="#9c9c9c" stroke-width="1.6"/><circle cx="7.0" cy="13.8" r="7.0" fill="url(#cloudG)"/><circle cx="19.0" cy="10.5" r="10.5" fill="url(#cloudG)"/><circle cx="29.0" cy="9.8" r="5.4" fill="url(#cloudG)"/><circle cx="33.2" cy="13.5" r="5.9" fill="url(#cloudG)"/><rect x="1.0" y="9.0" width="37.0" height="14.9" rx="7.0" fill="url(#cloudG)"/></g>
<polygon points="539.60,68.00 542.29,80.47 547.83,74.14 547.27,82.53 557.98,75.62 551.07,86.33 559.46,85.77 553.13,91.31 565.60,94.00 553.13,96.69 559.46,102.23 551.07,101.67 557.98,112.38 547.27,105.47 547.83,113.86 542.29,107.53 539.60,120.00 536.91,107.53 531.37,113.86 531.93,105.47 521.22,112.38 528.13,101.67 519.74,102.23 526.07,96.69 513.60,94.00 526.07,91.31 519.74,85.77 528.13,86.33 521.22,75.62 531.93,82.53 531.37,74.14 536.91,80.47" fill="url(#sunRay)" stroke="#d9901a" stroke-width="0.6" stroke-opacity="0.7"/><circle cx="539.6" cy="94.0" r="14.5" fill="url(#sunCore)" stroke="#e08a10" stroke-width="0.6" stroke-opacity="0.6"/>
<g transform="translate(528.1,86.2) scale(1.0383631713554988,0.8870292887029289)" filter="url(#ish)"><circle cx="7.0" cy="13.8" r="7.0" fill="#9c9c9c" stroke="#9c9c9c" stroke-width="1.6"/><circle cx="19.0" cy="10.5" r="10.5" fill="#9c9c9c" stroke="#9c9c9c" stroke-width="1.6"/><circle cx="29.0" cy="9.8" r="5.4" fill="#9c9c9c" stroke="#9c9c9c" stroke-width="1.6"/><circle cx="33.2" cy="13.5" r="5.9" fill="#9c9c9c" stroke="#9c9c9c" stroke-width="1.6"/><rect x="1.0" y="9.0" width="37.0" height="14.9" rx="7.0" fill="#9c9c9c" stroke="#9c9c9c" stroke-width="1.6"/><circle cx="7.0" cy="13.8" r="7.0" fill="url(#cloudG)"/><circle cx="19.0" cy="10.5" r="10.5" fill="url(#cloudG)"/><circle cx="29.0" cy="9.8" r="5.4" fill="url(#cloudG)"/><circle cx="33.2" cy="13.5" r="5.9" fill="url(#cloudG)"/><rect x="1.0" y="9.0" width="37.0" height="14.9" rx="7.0" fill="url(#cloudG)"/></g>
<path transform="translate(535.2,105.1)" d="M-1.2,-4.2 C0.5,-2.5 3,-1 3,1.3 C3,3.2 1.7,4.2 0,4.2 C-1.8,4.2 -3,3 -3,1.2 C-3,-1 -1.5,-2.5 -1.2,-4.2 Z" fill="url(#dropG)" stroke="#1f78b0" stroke-width="0.5"/>
<path transform="translate(548.2,104.6)" d="M-1.2,-4.2 C0.5,-2.5 3,-1 3,1.3 C3,3.2 1.7,4.2 0,4.2 C-1.8,4.2 -3,3 -3,1.2 C-3,-1 -1.5,-2.5 -1.2,-4.2 Z" fill="url(#dropG)" stroke="#1f78b0" stroke-width="0.5"/>
<path transform="translate(562.6,105.1)" d="M-1.2,-4.2 C0.5,-2.5 3,-1 3,1.3 C3,3.2 1.7,4.2 0,4.2 C-1.8,4.2 -3,3 -3,1.2 C-3,-1 -1.5,-2.5 -1.2,-4.2 Z" fill="url(#dropG)" stroke="#1f78b0" stroke-width="0.5"/>
<path transform="translate(541.3000000000001,114.7)" d="M-1.2,-4.2 C0.5,-2.5 3,-1 3,1.3 C3,3.2 1.7,4.2 0,4.2 C-1.8,4.2 -3,3 -3,1.2 C-3,-1 -1.5,-2.5 -1.2,-4.2 Z" fill="url(#dropG)" stroke="#1f78b0" stroke-width="0.5"/>
<path transform="translate(555.0,114.7)" d="M-1.2,-4.2 C0.5,-2.5 3,-1 3,1.3 C3,3.2 1.7,4.2 0,4.2 C-1.8,4.2 -3,3 -3,1.2 C-3,-1 -1.5,-2.5 -1.2,-4.2 Z" fill="url(#dropG)" stroke="#1f78b0" stroke-width="0.5"/>
<polygon points="676.43,68.20 679.12,80.67 684.66,74.34 684.10,82.73 694.81,75.82 687.90,86.53 696.29,85.97 689.96,91.51 702.43,94.20 689.96,96.89 696.29,102.43 687.90,101.87 694.81,112.58 684.10,105.67 684.66,114.06 679.12,107.73 676.43,120.20 673.74,107.73 668.20,114.06 668.76,105.67 658.04,112.58 664.95,101.87 656.57,102.43 662.89,96.89 650.43,94.20 662.89,91.51 656.57,85.97 664.95,86.53 658.04,75.82 668.76,82.73 668.20,74.34 673.74,80.67" fill="url(#sunRay)" stroke="#d9901a" stroke-width="0.6" stroke-opacity="0.7"/><circle cx="676.4285714285713" cy="94.2" r="14.5" fill="url(#sunCore)" stroke="#e08a10" stroke-width="0.6" stroke-opacity="0.6"/>
<g transform="translate(665.1285714285714,86.6) scale(0.9974424552429667,0.9414225941422595)" filter="url(#ish)"><circle cx="7.0" cy="13.8" r="7.0" fill="#9c9c9c" stroke="#9c9c9c" stroke-width="1.6"/><circle cx="19.0" cy="10.5" r="10.5" fill="#9c9c9c" stroke="#9c9c9c" stroke-width="1.6"/><circle cx="29.0" cy="9.8" r="5.4" fill="#9c9c9c" stroke="#9c9c9c" stroke-width="1.6"/><circle cx="33.2" cy="13.5" r="5.9" fill="#9c9c9c" stroke="#9c9c9c" stroke-width="1.6"/><rect x="1.0" y="9.0" width="37.0" height="14.9" rx="7.0" fill="#9c9c9c" stroke="#9c9c9c" stroke-width="1.6"/><circle cx="7.0" cy="13.8" r="7.0" fill="url(#cloudG)"/><circle cx="19.0" cy="10.5" r="10.5" fill="url(#cloudG)"/><circle cx="29.0" cy="9.8" r="5.4" fill="url(#cloudG)"/><circle cx="33.2" cy="13.5" r="5.9" fill="url(#cloudG)"/><rect x="1.0" y="9.0" width="37.0" height="14.9" rx="7.0" fill="url(#cloudG)"/></g>
<polygon points="813.06,68.20 815.75,80.67 821.28,74.34 820.72,82.73 831.44,75.82 824.53,86.53 832.92,85.97 826.59,91.51 839.06,94.20 826.59,96.89 832.92,102.43 824.53,101.87 831.44,112.58 820.72,105.67 821.28,114.06 815.75,107.73 813.06,120.20 810.36,107.73 804.83,114.06 805.39,105.67 794.67,112.58 801.58,101.87 793.19,102.43 799.52,96.89 787.06,94.20 799.52,91.51 793.19,85.97 801.58,86.53 794.67,75.82 805.39,82.73 804.83,74.34 810.36,80.67" fill="url(#sunRay)" stroke="#d9901a" stroke-width="0.6" stroke-opacity="0.7"/><circle cx="813.0571428571428" cy="94.2" r="14.5" fill="url(#sunCore)" stroke="#e08a10" stroke-width="0.6" stroke-opacity="0.6"/>
<g transform="translate(801.7571428571429,86.6) scale(0.9974424552429667,0.9414225941422595)" filter="url(#ish)"><circle cx="7.0" cy="13.8" r="7.0" fill="#9c9c9c" stroke="#9c9c9c" stroke-width="1.6"/><circle cx="19.0" cy="10.5" r="10.5" fill="#9c9c9c" stroke="#9c9c9c" stroke-width="1.6"/><circle cx="29.0" cy="9.8" r="5.4" fill="#9c9c9c" stroke="#9c9c9c" stroke-width="1.6"/><circle cx="33.2" cy="13.5" r="5.9" fill="#9c9c9c" stroke="#9c9c9c" stroke-width="1.6"/><rect x="1.0" y="9.0" width="37.0" height="14.9" rx="7.0" fill="#9c9c9c" stroke="#9c9c9c" stroke-width="1.6"/><circle cx="7.0" cy="13.8" r="7.0" fill="url(#cloudG)"/><circle cx="19.0" cy="10.5" r="10.5" fill="url(#cloudG)"/><circle cx="29.0" cy="9.8" r="5.4" fill="url(#cloudG)"/><circle cx="33.2" cy="13.5" r="5.9" fill="url(#cloudG)"/><rect x="1.0" y="9.0" width="37.0" height="14.9" rx="7.0" fill="url(#cloudG)"/></g>
<polygon points="949.69,68.20 952.38,80.67 957.91,74.34 957.35,82.73 968.07,75.82 961.16,86.53 969.55,85.97 963.22,91.51 975.69,94.20 963.22,96.89 969.55,102.43 961.16,101.87 968.07,112.58 957.35,105.67 957.91,114.06 952.38,107.73 949.69,120.20 946.99,107.73 941.46,114.06 942.02,105.67 931.30,112.58 938.21,101.87 929.82,102.43 936.15,96.89 923.69,94.20 936.15,91.51 929.82,85.97 938.21,86.53 931.30,75.82 942.02,82.73 941.46,74.34 946.99,80.67" fill="url(#sunRay)" stroke="#d9901a" stroke-width="0.6" stroke-opacity="0.7"/><circle cx="949.6857142857142" cy="94.2" r="14.5" fill="url(#sunCore)" stroke="#e08a10" stroke-width="0.6" stroke-opacity="0.6"/>
<g transform="translate(938.3857142857142,86.6) scale(0.9974424552429667,0.9414225941422595)" filter="url(#ish)"><circle cx="7.0" cy="13.8" r="7.0" fill="#9c9c9c" stroke="#9c9c9c" stroke-width="1.6"/><circle cx="19.0" cy="10.5" r="10.5" fill="#9c9c9c" stroke="#9c9c9c" stroke-width="1.6"/><circle cx="29.0" cy="9.8" r="5.4" fill="#9c9c9c" stroke="#9c9c9c" stroke-width="1.6"/><circle cx="33.2" cy="13.5" r="5.9" fill="#9c9c9c" stroke="#9c9c9c" stroke-width="1.6"/><rect x="1.0" y="9.0" width="37.0" height="14.9" rx="7.0" fill="#9c9c9c" stroke="#9c9c9c" stroke-width="1.6"/><circle cx="7.0" cy="13.8" r="7.0" fill="url(#cloudG)"/><circle cx="19.0" cy="10.5" r="10.5" fill="url(#cloudG)"/><circle cx="29.0" cy="9.8" r="5.4" fill="url(#cloudG)"/><circle cx="33.2" cy="13.5" r="5.9" fill="url(#cloudG)"/><rect x="1.0" y="9.0" width="37.0" height="14.9" rx="7.0" fill="url(#cloudG)"/></g>
</svg></body></html>
